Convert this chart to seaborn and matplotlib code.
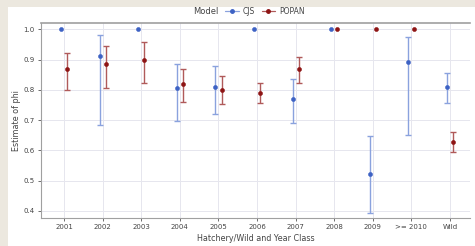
import numpy as np
import pandas as pd
import matplotlib
matplotlib.use("Agg")
import matplotlib.pyplot as plt
from matplotlib.lines import Line2D
from matplotlib.patches import Rectangle
import seaborn as sns

categories = ["2001", "2002", "2003", "2004", "2005", "2006", "2007", "2008", "2009", ">= 2010", "Wild"]

cjs_est = [1.0, 0.912, 1.0, 0.807, 0.810, 1.0, 0.768, 1.0, 0.521, 0.892, 0.810]
cjs_lo  = [np.nan, 0.683, np.nan, 0.698, 0.719, np.nan, 0.689, np.nan, 0.392, 0.652, 0.755]
cjs_hi  = [np.nan, 0.981, np.nan, 0.884, 0.880, np.nan, 0.834, np.nan, 0.648, 0.973, 0.857]

popan_est = [0.868, 0.885, 0.898, 0.818, 0.800, 0.790, 0.868, 1.0, 1.0, 1.0, 0.628]
popan_lo  = [0.800, 0.805, 0.823, 0.760, 0.752, 0.755, 0.821, np.nan, np.nan, np.nan, 0.593]
popan_hi  = [0.923, 0.946, 0.957, 0.869, 0.846, 0.823, 0.909, np.nan, np.nan, np.nan, 0.661]

models = ["CJS", "POPAN"]

df = pd.concat([
    pd.DataFrame({"cls": categories, "est": cjs_est, "lo": cjs_lo, "hi": cjs_hi, "Model": "CJS"}),
    pd.DataFrame({"cls": categories, "est": popan_est, "lo": popan_lo, "hi": popan_hi, "Model": "POPAN"}),
], ignore_index=True)

pt_colors = {"CJS": "#3d62c4", "POPAN": "#8e1414"}
bar_colors = {"CJS": "#8aa2de", "POPAN": "#b05a5a"}

sns.set_theme(style="white")
plt.rcParams["font.family"] = ["DejaVu Sans"]

fig = plt.figure(figsize=(4.75, 2.46), dpi=100)
fig.patch.set_facecolor("#ece8df")
bg = Rectangle((8 / 475, 0), 1, 1 - 7 / 246, transform=fig.transFigure,
               facecolor="white", edgecolor="none", zorder=-10)
fig.add_artist(bg)

ax = fig.add_axes([41 / 475, 1 - 218 / 246, (470 - 41) / 475, (218 - 23) / 246])
ax.set_zorder(1)
ax.set_facecolor("white")

dodge = 0.16
offsets = {"CJS": -dodge / 2, "POPAN": dodge / 2}
xpos = {c: i for i, c in enumerate(categories)}

# error bars
for m in models:
    sub = df[(df.Model == m) & df.lo.notna()]
    x = np.array([xpos[c] for c in sub.cls]) + offsets[m]
    ax.errorbar(x, sub.est, yerr=[sub.est - sub.lo, sub.hi - sub.est], fmt="none",
                ecolor=bar_colors[m], elinewidth=1.0, capsize=2.5, capthick=1.0, zorder=2)

sns.pointplot(data=df, x="cls", y="est", hue="Model", order=categories, hue_order=models,
              palette=pt_colors, dodge=dodge, linestyle="none", errorbar=None,
              markers="o", markersize=2.9, markeredgewidth=0.4, ax=ax, legend=False, zorder=3)

ax.set_xlim(-0.6, 10.52)
ax.set_ylim(0.376, 1.0208)
ax.set_yticks([0.4, 0.5, 0.6, 0.7, 0.8, 0.9, 1.0])
ax.set_yticklabels(["0.4", "0.5", "0.6", "0.7", "0.8", "0.9", "1.0"])
ax.set_xticks(range(len(categories)))
ax.set_xticklabels(categories)
ax.grid(True, color="#e6e6ee", linewidth=0.7)
ax.set_axisbelow(True)

ax.tick_params(axis="both", labelsize=5, colors="#555555", length=2.5, width=0.6, pad=2,
               direction="out", left=True, bottom=True)
for lbl in ax.get_xticklabels() + ax.get_yticklabels():
    lbl.set_color("#444444")
for side in ["left", "bottom", "top"]:
    ax.spines[side].set_visible(True)
    ax.spines[side].set_color("#a0a0a0")
    ax.spines[side].set_linewidth(0.8)
ax.spines["right"].set_visible(False)
ax.spines["top"].set_linewidth(1.2)

ax.set_xlabel("Hatchery/Wild and Year Class", fontsize=5.8, color="#444444", labelpad=3)
ax.set_ylabel("Estimate of phi", fontsize=5.8, color="#444444", labelpad=2)

handles = [Line2D([0], [0], color=bar_colors[m], lw=0.9, marker="o", markersize=2.5,
                  markerfacecolor=pt_colors[m], markeredgecolor=pt_colors[m]) for m in models]
fig.text(218 / 475, 1 - 11 / 246, "Model", fontsize=6, color="#444444", ha="right", va="center")
fig.legend(handles, models, loc="center left", bbox_to_anchor=(221 / 475, 1 - 11 / 246),
           ncol=2, frameon=False, fontsize=5.5, handlelength=1.8, handletextpad=0.5,
           columnspacing=0.9, borderpad=0, labelcolor="#444444")

fig.savefig("out.png", dpi=100)
